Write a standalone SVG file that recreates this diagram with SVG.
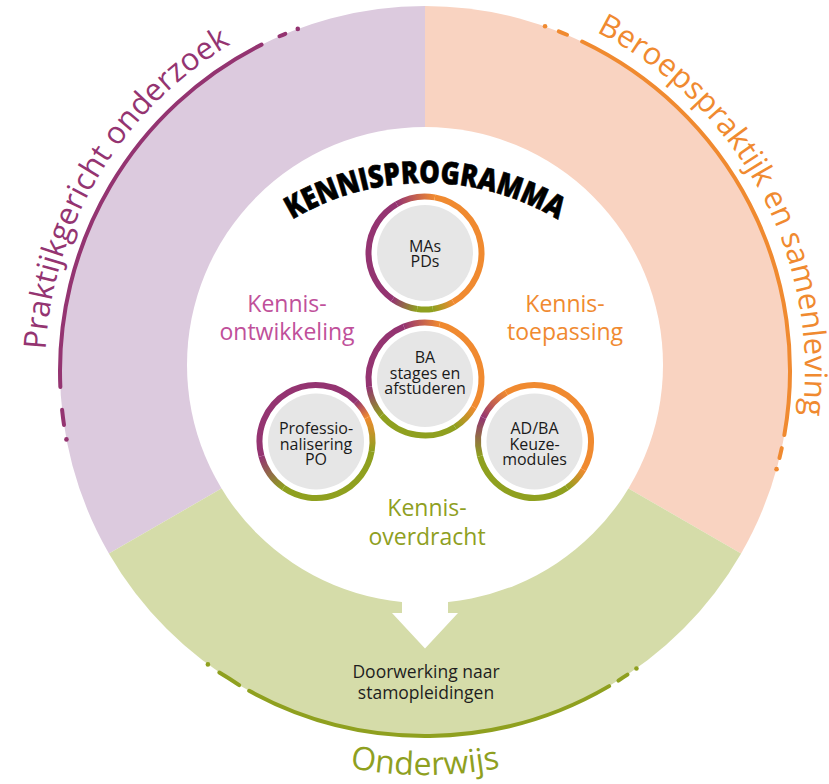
<svg xmlns="http://www.w3.org/2000/svg" width="829" height="784" viewBox="0 0 829 784">
<style>
.sans{font-family:"Open Sans","Liberation Sans",sans-serif}
.arcl{font-size:31px}
.lbl{font-size:23px;text-anchor:middle}
.nt{font-size:16px;fill:#1a1a1a;text-anchor:middle}
.ring{fill:none;stroke-width:6}
.ln{fill:none;stroke-width:4;stroke-linecap:round}
.gray{fill:#e6e6e6}
.pu{stroke:#943471}.or{stroke:#f08a30}.gr{stroke:#8fa01f}
</style>
<defs>
<path id="pLeft" d="M45.59,349.79 A380,380 0 0 1 295.03,13.92"/>
<path id="pRight" d="M596.33,31.82 A380,380 0 0 1 792.05,469.35"/>
<path id="pBottom" d="M286.82,750.64 A404,404 0 0 0 563.18,750.64"/>
<path id="pTitle" d="M276.44,229.84 A259,259 0 0 1 573.56,229.84"/>
<linearGradient id="m1" gradientUnits="userSpaceOnUse" x1="453.25" y1="301.93" x2="432.86" y2="308.95"><stop offset="0" stop-color="#f08a30"/><stop offset="1" stop-color="#8fa01f"/></linearGradient>
<linearGradient id="m2" gradientUnits="userSpaceOnUse" x1="417.14" y1="308.95" x2="392.59" y2="299.28"><stop offset="0" stop-color="#8fa01f"/><stop offset="1" stop-color="#943471"/></linearGradient>
<linearGradient id="m3" gradientUnits="userSpaceOnUse" x1="396.75" y1="204.07" x2="434.81" y2="197.36"><stop offset="0" stop-color="#943471"/><stop offset="1" stop-color="#f08a30"/></linearGradient>
<linearGradient id="b1" gradientUnits="userSpaceOnUse" x1="473.93" y1="407.25" x2="454.94" y2="426.92"><stop offset="0" stop-color="#f08a30"/><stop offset="1" stop-color="#8fa01f"/></linearGradient>
<linearGradient id="b2" gradientUnits="userSpaceOnUse" x1="381.72" y1="415.32" x2="369.05" y2="386.86"><stop offset="0" stop-color="#8fa01f"/><stop offset="1" stop-color="#943471"/></linearGradient>
<linearGradient id="b3" gradientUnits="userSpaceOnUse" x1="403.84" y1="326.61" x2="439.62" y2="324.43"><stop offset="0" stop-color="#943471"/><stop offset="1" stop-color="#f08a30"/></linearGradient>
<linearGradient id="p1" gradientUnits="userSpaceOnUse" x1="355.95" y1="401.55" x2="367.21" y2="417.62"><stop offset="0" stop-color="#943471"/><stop offset="1" stop-color="#f08a30"/></linearGradient>
<linearGradient id="p2" gradientUnits="userSpaceOnUse" x1="367.21" y1="417.62" x2="371.64" y2="451.31"><stop offset="0" stop-color="#f08a30"/><stop offset="1" stop-color="#8fa01f"/></linearGradient>
<linearGradient id="p3" gradientUnits="userSpaceOnUse" x1="283.59" y1="487.78" x2="261.43" y2="456.12"><stop offset="0" stop-color="#8fa01f"/><stop offset="1" stop-color="#943471"/></linearGradient>
<linearGradient id="a1" gradientUnits="userSpaceOnUse" x1="583.43" y1="469.75" x2="566.91" y2="487.78"><stop offset="0" stop-color="#f08a30"/><stop offset="1" stop-color="#8fa01f"/></linearGradient>
<linearGradient id="a2" gradientUnits="userSpaceOnUse" x1="479.93" y1="456.12" x2="483.29" y2="417.62"><stop offset="0" stop-color="#8fa01f"/><stop offset="1" stop-color="#943471"/></linearGradient>
<linearGradient id="a3" gradientUnits="userSpaceOnUse" x1="483.29" y1="417.62" x2="506.25" y2="392.57"><stop offset="0" stop-color="#943471"/><stop offset="1" stop-color="#f08a30"/></linearGradient>
</defs>
<rect width="829" height="784" fill="#ffffff"/>

<g id="sector-onderzoek">
<path d="M425,371 L108.9,553.5 A365,365 0 0 1 425,6 Z" fill="#dccade"/>
<path class="ln pu" d="M60.35,386.9 A365,365 0 0 1 261.57,44.64"/>
<path class="ln pu" d="M279.46,36.27 A365,365 0 0 1 285.32,33.78"/>
<circle cx="297.77" cy="28.89" r="2.3" fill="#943471"/>
<path class="ln pu" d="M62.07,409.79 A365,365 0 0 0 64.01,424.95"/>
<circle cx="66.46" cy="439.39" r="2.3" fill="#943471"/>
<text class="sans arcl" fill="#943471"><textPath href="#pLeft" textLength="372" lengthAdjust="spacing">Praktijkgericht onderzoek</textPath></text>
</g>

<g id="sector-beroepspraktijk">
<path d="M425,371 L425,6 A365,365 0 0 1 741.1,553.5 Z" fill="#f9d3c1"/>
<path class="ln or" d="M582.14,41.55 A365,365 0 0 1 784.34,435.01"/>
<path class="ln or" d="M558.77,31.40 A365,365 0 0 1 567.03,34.77"/>
<circle cx="545.04" cy="26.30" r="2.3" fill="#f08a30"/>
<path class="ln or" d="M781.76,448.13 A365,365 0 0 1 779.46,458.06"/>
<circle cx="776.55" cy="469.16" r="2.3" fill="#f08a30"/>
<text class="sans arcl" fill="#f08a30"><textPath href="#pRight" textLength="463" lengthAdjust="spacing">Beroepspraktijk en samenleving</textPath></text>
</g>

<g id="sector-onderwijs">
<path d="M425,371 L741.1,553.5 A365,365 0 0 1 108.9,553.5 Z" fill="#d5dca9"/>
<path class="ln gr" d="M609.15,686.14 A365,365 0 0 1 249.16,690.85"/>
<path class="ln gr" d="M219.31,672.53 A365,365 0 0 1 239.20,685.17"/>
<circle cx="207.89" cy="664.41" r="2.3" fill="#8fa01f"/>
<path class="ln gr" d="M618.42,680.54 A365,365 0 0 1 627.52,674.66"/>
<circle cx="636.44" cy="668.52" r="2.3" fill="#8fa01f"/>
<text class="sans" font-size="32" fill="#8fa01f" text-anchor="middle"><textPath href="#pBottom" startOffset="50%">Onderwijs</textPath></text>
</g>

<g id="kennisprogramma">
<circle cx="425" cy="365" r="238" fill="#ffffff"/>
<text class="sans" font-size="31" font-weight="800" fill="#000000" stroke="#000000" stroke-width="0.6" text-anchor="middle"><textPath href="#pTitle" startOffset="50%" textLength="279" lengthAdjust="spacingAndGlyphs">KENNISPROGRAMMA</textPath></text>
</g>

<g id="connectors">
<polygon points="402,596 402,613 392,613 425,648.5 458,613 448,613 448,596" fill="#ffffff"/>
</g>

<g id="doorwerking">
<text class="sans" font-size="17.5" fill="#1e1e1e" text-anchor="middle"><tspan x="426" y="678">Doorwerking naar</tspan><tspan x="426" y="699">stamopleidingen</tspan></text>
</g>

<g id="label-ontwikkeling">
<text class="sans lbl" fill="#c0509a"><tspan x="287" y="312">Kennis-</tspan><tspan x="287" y="340">ontwikkeling</tspan></text>
</g>
<g id="label-toepassing">
<text class="sans lbl" fill="#f08a30"><tspan x="565" y="312">Kennis-</tspan><tspan x="565" y="340">toepassing</tspan></text>
</g>
<g id="label-overdracht">
<text class="sans lbl" fill="#8fa01f"><tspan x="427" y="516">Kennis-</tspan><tspan x="427" y="545">overdracht</tspan></text>
</g>

<g id="node-mas">
<path class="ring or" d="M434.81,197.36 A56.5,56.5 0 0 1 453.25,301.93"/>
<path class="ring" stroke="url(#m1)" d="M453.25,301.93 A56.5,56.5 0 0 1 432.86,308.95"/>
<path class="ring gr" d="M432.86,308.95 A56.5,56.5 0 0 1 417.14,308.95"/>
<path class="ring" stroke="url(#m2)" d="M417.14,308.95 A56.5,56.5 0 0 1 392.59,299.28"/>
<path class="ring pu" d="M392.59,299.28 A56.5,56.5 0 0 1 396.75,204.07"/>
<path class="ring" stroke="url(#m3)" d="M396.75,204.07 A56.5,56.5 0 0 1 434.81,197.36"/>
<circle class="gray" cx="425" cy="253" r="48"/>
<text class="sans nt"><tspan x="425" y="252">MAs</tspan><tspan x="425" y="267">PDs</tspan></text>
</g>

<g id="node-ba">
<path class="ring or" d="M439.62,324.43 A56.5,56.5 0 0 1 473.93,407.25"/>
<path class="ring" stroke="url(#b1)" d="M473.93,407.25 A56.5,56.5 0 0 1 454.94,426.92"/>
<path class="ring gr" d="M454.94,426.92 A56.5,56.5 0 0 1 381.72,415.32"/>
<path class="ring" stroke="url(#b2)" d="M381.72,415.32 A56.5,56.5 0 0 1 369.05,386.86"/>
<path class="ring pu" d="M369.05,386.86 A56.5,56.5 0 0 1 403.84,326.61"/>
<path class="ring" stroke="url(#b3)" d="M403.84,326.61 A56.5,56.5 0 0 1 439.62,324.43"/>
<circle class="gray" cx="425" cy="379" r="48"/>
<text class="sans nt"><tspan x="425" y="363">BA</tspan><tspan x="425" y="378.5">stages en</tspan><tspan x="425" y="394">afstuderen</tspan></text>
</g>

<g id="node-po">
<path class="ring pu" d="M261.43,456.12 A56.5,56.5 0 0 1 355.95,401.55"/>
<path class="ring" stroke="url(#p1)" d="M355.95,401.55 A56.5,56.5 0 0 1 367.21,417.62"/>
<path class="ring" stroke="url(#p2)" d="M367.21,417.62 A56.5,56.5 0 0 1 371.64,451.31"/>
<path class="ring gr" d="M371.64,451.31 A56.5,56.5 0 0 1 283.59,487.78"/>
<path class="ring" stroke="url(#p3)" d="M283.59,487.78 A56.5,56.5 0 0 1 261.43,456.12"/>
<circle class="gray" cx="316" cy="441.5" r="48"/>
<text class="sans nt"><tspan x="316" y="434">Professio-</tspan><tspan x="316" y="449.5">nalisering</tspan><tspan x="316" y="465">PO</tspan></text>
</g>

<g id="node-adba">
<path class="ring or" d="M506.25,392.57 A56.5,56.5 0 0 1 583.43,469.75"/>
<path class="ring" stroke="url(#a1)" d="M583.43,469.75 A56.5,56.5 0 0 1 566.91,487.78"/>
<path class="ring gr" d="M566.91,487.78 A56.5,56.5 0 0 1 479.93,456.12"/>
<path class="ring" stroke="url(#a2)" d="M479.93,456.12 A56.5,56.5 0 0 1 483.29,417.62"/>
<path class="ring" stroke="url(#a3)" d="M483.29,417.62 A56.5,56.5 0 0 1 506.25,392.57"/>
<circle class="gray" cx="534.5" cy="441.5" r="48"/>
<text class="sans nt"><tspan x="534.5" y="434">AD/BA</tspan><tspan x="534.5" y="449.5">Keuze-</tspan><tspan x="534.5" y="465">modules</tspan></text>
</g>
</svg>
